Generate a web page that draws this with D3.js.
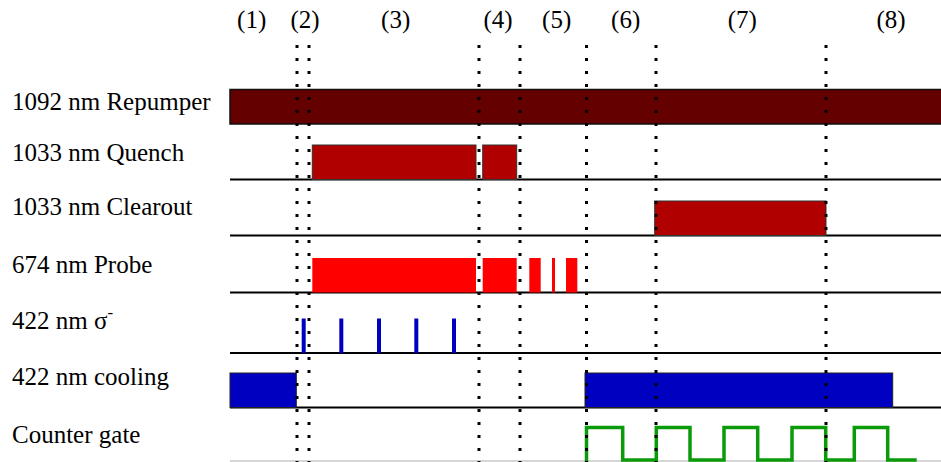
<!DOCTYPE html>
<html>
<head>
<meta charset="utf-8">
<script src="https://cdn.jsdelivr.net/npm/d3@7/dist/d3.min.js"></script>
<style>
  html, body { margin: 0; padding: 0; background: #fff; }
  svg { display: block; }
  text { font-family: "Liberation Serif", "Times New Roman", serif; fill: #000; }
</style>
</head>
<body>
<script>
// Timing sequence (arbitrary time units along the sequence)
const phaseLabels = ["(1)", "(2)", "(3)", "(4)", "(5)", "(6)", "(7)", "(8)"];
const phaseCenters = [21.7, 75, 165.7, 268, 326.7, 395.7, 512.3, 661];
const dividers = [67, 79, 249, 290, 356.5, 426, 596];

const channels = ["1092 nm Repumper", "1033 nm Quench", "1033 nm Clearout",
                  "674 nm Probe", "422 nm σ", "422 nm cooling", "Counter gate"];

// on-intervals [start, end] per channel
const repumperPulses = [[0, 720]];
const quenchPulses = [[82.3, 246], [252.7, 286.7]];
const clearoutPulses = [[424.7, 596]];
const probePulses = [[82.3, 246], [252.7, 286.7], [299.3, 310.7], [322, 325], [336, 347.3]];
const sigmaPulses = [[71.7, 75.7], [109.3, 113.3], [147, 151], [184.3, 188.3], [222, 226]];
const coolingPulses = [[0, 66.3], [355, 662.7]];
const gateHighs = [[356.5, 392.7], [426.3, 460], [494, 527.7], [562, 595.7], [624.3, 657.7]];
const gateEnd = 686.7;

const W = 941, H = 462;
const svg = d3.select("body").append("svg").attr("width", W).attr("height", H);

const x = d3.scaleLinear().domain([0, 711]).range([230, 941]);

// row layout: baseline y, label baseline y
const rowBase = [124, 179.5, 235.5, 292.5, 353, 407.5, 461];
const labelY = [110, 161, 215, 273, 329, 385, 443];
const barH = 34.5;

// channel labels
channels.forEach((c, i) => {
  const t = svg.append("text").attr("x", 12).attr("y", labelY[i]).attr("font-size", 25).text(c);
  if (i === 4) {
    t.append("tspan").attr("dy", -11).attr("font-size", 17).text("-");
  }
});

// phase labels
svg.selectAll("text.phase").data(phaseLabels).join("text")
  .attr("class", "phase")
  .attr("x", (d, i) => x(phaseCenters[i]))
  .attr("y", 28)
  .attr("text-anchor", "middle")
  .attr("font-size", 25)
  .text(d => d);

// baselines
rowBase.forEach((y, i) => {
  if (i === 0) return;
  svg.append("line")
    .attr("x1", x(0)).attr("x2", W)
    .attr("y1", y).attr("y2", y)
    .attr("stroke", i === 6 ? "#c8c8c8" : "#000")
    .attr("stroke-width", i === 6 ? 1.5 : 2);
});

function bars(data, row, fill, stroke, sw) {
  svg.append("g").selectAll("rect").data(data).join("rect")
    .attr("x", d => x(d[0]))
    .attr("width", d => x(d[1]) - x(d[0]))
    .attr("y", rowBase[row] - barH)
    .attr("height", barH)
    .attr("fill", fill)
    .attr("stroke", stroke)
    .attr("stroke-width", sw);
}

bars(repumperPulses, 0, "#640000", "#111", 1.5);
bars(quenchPulses, 1, "#b00000", "#333", 1);
bars(clearoutPulses, 2, "#b00000", "#333", 1);
bars(probePulses, 3, "#ff0000", "none", 0);
bars(coolingPulses, 5, "#0000c0", "#222", 1);

// sigma-minus pulses
svg.append("g").selectAll("rect").data(sigmaPulses).join("rect")
  .attr("x", d => x(d[0]))
  .attr("width", d => x(d[1]) - x(d[0]))
  .attr("y", rowBase[4] - barH)
  .attr("height", barH)
  .attr("fill", "#0000c0");

// counter gate trace
const gateHigh = 427.5, gateLow = 460;
const pts = [[gateHighs[0][0], H + 2]];
gateHighs.forEach((h, i) => {
  pts.push([h[0], gateHigh], [h[1], gateHigh], [h[1], gateLow]);
  const next = i + 1 < gateHighs.length ? gateHighs[i + 1][0] : gateEnd;
  pts.push([next, gateLow]);
});
svg.append("path")
  .attr("d", d3.line().x(p => x(p[0])).y(p => p[1])(pts))
  .attr("fill", "none")
  .attr("stroke", "#0a9a0a")
  .attr("stroke-width", 3.5)
  .attr("stroke-linejoin", "miter");

// phase dividers
svg.append("g").selectAll("line").data(dividers).join("line")
  .attr("x1", d => x(d)).attr("x2", d => x(d))
  .attr("y1", 45).attr("y2", H)
  .attr("stroke", "#000")
  .attr("stroke-width", 3)
  .attr("stroke-dasharray", "3,10");
</script>
</body>
</html>
